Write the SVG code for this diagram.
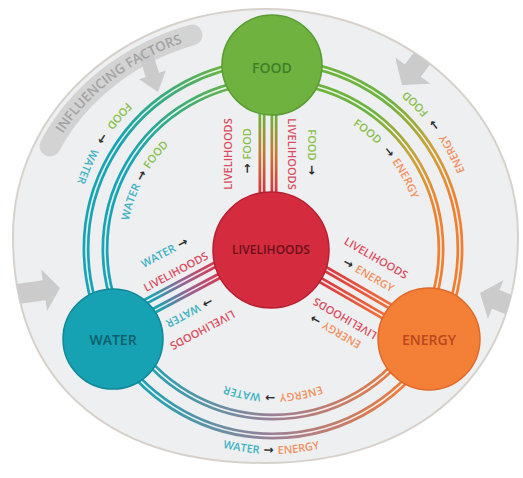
<svg xmlns="http://www.w3.org/2000/svg" width="523" height="478" viewBox="0 0 523 478">
<defs>
<style>
.t{font-family:"Open Sans","Liberation Sans",sans-serif;font-weight:600;font-size:11px}
.fo{fill:#86bf4c}.wa{fill:#3db2c3}.li{fill:#dc4b5f}.en{fill:#f2915e}
.ar{fill:#2e2e2e;font-family:"DejaVu Sans",sans-serif;font-weight:700;font-size:12px}
.nl{font-family:"Open Sans","Liberation Sans",sans-serif;font-weight:600;text-anchor:middle}
.core{fill:none;stroke:#fff;stroke-width:1.6;stroke-opacity:.85}
.tb{fill:none;stroke-width:7}
.gr{fill:#cbcbcb}
.mid{text-anchor:middle}
</style>
<linearGradient id="gL" gradientUnits="userSpaceOnUse" x1="225" y1="68" x2="125" y2="150"><stop offset="0" stop-color="#6cb33f"/><stop offset="0.5" stop-color="#3aab7e"/><stop offset="1" stop-color="#1aa3b3"/></linearGradient>
<linearGradient id="gR" gradientUnits="userSpaceOnUse" x1="390" y1="100" x2="460" y2="200"><stop offset="0" stop-color="#6cb33f"/><stop offset="0.5" stop-color="#c9a23a"/><stop offset="1" stop-color="#f07f33"/></linearGradient>
<linearGradient id="gB" gradientUnits="userSpaceOnUse" x1="140" y1="0" x2="410" y2="0"><stop offset="0" stop-color="#1aa3b3"/><stop offset="0.5" stop-color="#9d8097"/><stop offset="1" stop-color="#f07a35"/></linearGradient>
<linearGradient id="gF" gradientUnits="userSpaceOnUse" x1="0" y1="112" x2="0" y2="196"><stop offset="0" stop-color="#6cb33f"/><stop offset="0.5" stop-color="#c27a35"/><stop offset="1" stop-color="#d62f40"/></linearGradient>
<linearGradient id="gW" gradientUnits="userSpaceOnUse" x1="155" y1="304" x2="218" y2="270"><stop offset="0" stop-color="#1aa3b3"/><stop offset="0.5" stop-color="#9a6292"/><stop offset="1" stop-color="#d83a50"/></linearGradient>
<linearGradient id="gE" gradientUnits="userSpaceOnUse" x1="320" y1="268" x2="395" y2="312"><stop offset="0" stop-color="#d63040"/><stop offset="1" stop-color="#f2773a"/></linearGradient>
<path id="outline" d="M265,9 C404,9 518,110 518,236 C518,372 420,463 265,463 C105,463 13,380 13,236 C13,110 126,9 265,9 Z"/>
<clipPath id="clipE"><use href="#outline"/></clipPath>
<path id="aLo" d="M273,62 A187,187 0 0 0 111.1,342.5"/>
<path id="aRo" d="M273,62 A187,187 0 0 1 434.9,342.5"/>
<path id="aBo" d="M111.1,342.5 A187,187 0 0 0 434.9,342.5"/>
<path id="aLi" d="M273,81 A168,168 0 0 0 127.5,333"/>
<path id="aRi" d="M273,81 A168,168 0 0 1 418.5,333"/>
<path id="aBi" d="M127.5,333 A168,168 0 0 0 418.5,333"/>
<path id="sF1" d="M262,100 L262,205"/>
<path id="sF2" d="M274,100 L274,205"/>
<path id="sW1" d="M111.9,319.5 L235.5,253.8"/>
<path id="sW2" d="M117.5,330.1 L241.1,264.4"/>
<path id="sE1" d="M282.7,258.2 L412.6,333.2"/>
<path id="sE2" d="M288.7,247.8 L418.6,322.8"/>
<path id="pLO" d="M175.8,66.2 A207,207 0 0 0 66.1,241.8"/>
<path id="pRO" d="M478.9,227.4 A207,207 0 0 0 357.2,59.9"/>
<path id="pBO" d="M169,425.6 A205,205 0 0 0 373.9,427.4"/>
<path id="pLI" d="M126.1,254.1 A147,147 0 0 1 195.1,124.3"/>
<path id="pRI" d="M327.1,111.8 A147.5,147.5 0 0 1 418.9,227.2"/>
<path id="pBI" d="M345.5,374.6 A145,145 0 0 1 200.5,374.6"/>
<path id="pIF" d="M39.5,184 A233.5,208.5 0 0 1 244.6,30.3"/>
</defs>

<g id="background">
<use href="#outline" fill="#eeeff0" stroke="#d7d1cb" stroke-width="2"/>
<g clip-path="url(#clipE)">
<path d="M50,146 A238,213 0 0 1 192,35" fill="none" stroke="#d3d3d3" stroke-width="21" stroke-linecap="round"/>
<polygon class="gr" points="0,0 -18,-14 -18,-7 -43,-7 -43,7 -18,7 -18,14" transform="translate(158,92) rotate(72)"/>
<polygon class="gr" points="0,0 -18,-22 -18,-10 -63,-10 -63,10 -18,10 -18,22" transform="translate(402,85) rotate(127)"/>
<polygon class="gr" points="0,0 -16,-21 -16,-10 -60,-10 -60,10 -16,10 -16,21" transform="translate(60,288) rotate(-8)"/>
<polygon class="gr" points="0,0 -17,-21 -17,-10 -60,-10 -60,10 -17,10 -17,21" transform="translate(480,293) rotate(202)"/>
</g>
<text font-family="'Open Sans','Liberation Sans',sans-serif" font-weight="600" font-size="13.5" fill="#a3a3a3"><textPath href="#pIF" startOffset="48.5%" text-anchor="middle">INFLUENCING FACTORS</textPath></text>
</g>

<g id="connectors">
<use href="#aLo" class="tb" stroke="url(#gL)"/><use href="#aLo" class="core"/>
<use href="#aLi" class="tb" stroke="url(#gL)"/><use href="#aLi" class="core"/>
<use href="#aRo" class="tb" stroke="url(#gR)"/><use href="#aRo" class="core"/>
<use href="#aRi" class="tb" stroke="url(#gR)"/><use href="#aRi" class="core"/>
<use href="#aBo" class="tb" stroke="url(#gB)"/><use href="#aBo" class="core"/>
<use href="#aBi" class="tb" stroke="url(#gB)"/><use href="#aBi" class="core"/>
<use href="#sF1" class="tb" stroke="url(#gF)"/><use href="#sF1" class="core"/>
<use href="#sF2" class="tb" stroke="url(#gF)"/><use href="#sF2" class="core"/>
<use href="#sW1" class="tb" stroke="url(#gW)"/><use href="#sW1" class="core"/>
<use href="#sW2" class="tb" stroke="url(#gW)"/><use href="#sW2" class="core"/>
<use href="#sE1" class="tb" stroke="url(#gE)"/><use href="#sE1" class="core"/>
<use href="#sE2" class="tb" stroke="url(#gE)"/><use href="#sE2" class="core"/>
</g>

<g id="connector-labels" class="t">
<text><textPath href="#pLO" startOffset="50%" text-anchor="middle"><tspan class="fo">FOOD</tspan><tspan class="ar">&#160;&#160;→&#160;&#160;</tspan><tspan class="wa">WATER</tspan></textPath></text>
<text><textPath href="#pRO" startOffset="50%" text-anchor="middle"><tspan class="en">ENERGY</tspan><tspan class="ar">&#160;&#160;→&#160;&#160;</tspan><tspan class="fo">FOOD</tspan></textPath></text>
<text><textPath href="#pBO" startOffset="50%" text-anchor="middle"><tspan class="wa">WATER</tspan><tspan class="ar">&#160;→&#160;</tspan><tspan class="en">ENERGY</tspan></textPath></text>
<text><textPath href="#pLI" startOffset="50%" text-anchor="middle"><tspan class="wa">WATER</tspan><tspan class="ar">&#160;→&#160;</tspan><tspan class="fo">FOOD</tspan></textPath></text>
<text><textPath href="#pRI" startOffset="50%" text-anchor="middle"><tspan class="fo">FOOD</tspan><tspan class="ar">&#160;&#160;→&#160;</tspan><tspan class="en">ENERGY</tspan></textPath></text>
<text><textPath href="#pBI" startOffset="50%" text-anchor="middle"><tspan class="en">ENERGY</tspan><tspan class="ar">&#160;→&#160;</tspan><tspan class="wa">WATER</tspan></textPath></text>

<text class="mid li" transform="translate(228,154) rotate(-90)" y="3.9">LIVELIHOODS</text>
<text class="mid" transform="translate(247,151) rotate(-90)" y="3.9"><tspan class="ar">→&#160;</tspan><tspan class="fo">FOOD</tspan></text>
<text class="mid li" transform="translate(292,154) rotate(90)" y="3.9">LIVELIHOODS</text>
<text class="mid" transform="translate(312,152) rotate(90)" y="3.9"><tspan class="fo">FOOD</tspan><tspan class="ar">&#160;→</tspan></text>

<text class="mid" transform="translate(164.5,252.5) rotate(-28)" y="3.9"><tspan class="wa">WATER</tspan><tspan class="ar">&#160;→</tspan></text>
<text class="mid li" transform="translate(175.8,271.7) rotate(-28)" y="3.9">LIVELIHOODS</text>
<text class="mid" transform="translate(189.5,312.5) rotate(152)" y="3.9"><tspan class="ar">→&#160;</tspan><tspan class="wa">WATER</tspan></text>
<text class="mid li" transform="translate(202.5,330) rotate(152)" y="3.9">LIVELIHOODS</text>

<text class="mid li" transform="translate(376,258) rotate(30)" y="3.9">LIVELIHOODS</text>
<text class="mid" transform="translate(368.5,275) rotate(30)" y="3.9"><tspan class="ar">→&#160;</tspan><tspan class="en">ENERGY</tspan></text>
<text class="mid li" transform="translate(345,318.5) rotate(210)" y="3.9">LIVELIHOODS</text>
<text class="mid" transform="translate(335.5,331.5) rotate(210)" y="3.9"><tspan class="en">ENERGY</tspan><tspan class="ar">&#160;→</tspan></text>
</g>

<g id="node-food">
<circle cx="272" cy="65" r="50" fill="#6fb23f" stroke="#5a9c33" stroke-width="1.5"/>
<text class="nl" x="272" y="73" font-size="14" fill="#3e7e28">FOOD</text>
</g>
<g id="node-livelihoods">
<circle cx="271" cy="250" r="58" fill="#d42b3f" stroke="#b71f31" stroke-width="1.5"/>
<text class="nl" x="271" y="254" font-size="12" fill="#6b1019">LIVELIHOODS</text>
</g>
<g id="node-water">
<circle cx="113" cy="339" r="50" fill="#17a2b3" stroke="#11899a" stroke-width="1.5"/>
<text class="nl" x="113" y="345" font-size="14" fill="#0c5f6b">WATER</text>
</g>
<g id="node-energy">
<circle cx="429" cy="339" r="51" fill="#f47f37" stroke="#e0692a" stroke-width="1.5"/>
<text class="nl" x="429" y="345" font-size="14" fill="#b8471c">ENERGY</text>
</g>
</svg>
